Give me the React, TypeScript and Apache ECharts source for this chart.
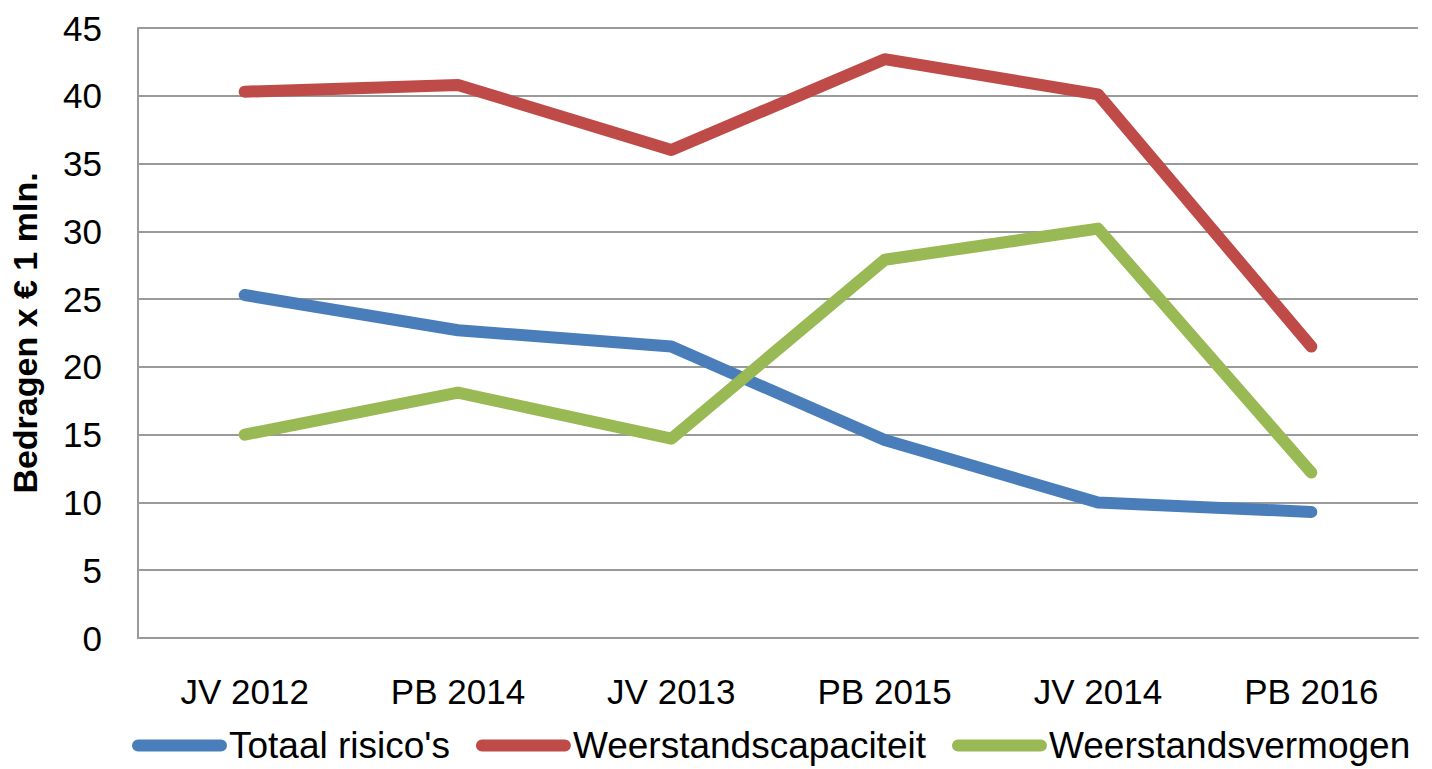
import React, { useEffect, useRef } from "react";
import * as echarts from "echarts";

const categories = ["JV 2012", "PB 2014", "JV 2013", "PB 2015", "JV 2014", "PB 2016"];
const totaalRisicos = [25.3, 22.7, 21.5, 14.6, 10.0, 9.3];
const weerstandscapaciteit = [40.3, 40.8, 36.0, 42.7, 40.1, 21.5];
const weerstandsvermogen = [15.0, 18.1, 14.7, 27.9, 30.2, 12.2];
const seriesNames = ["Totaal risico's", "Weerstandscapaciteit", "Weerstandsvermogen"];
const colors = ["#4a7ebb", "#be4b48", "#98b954"];

const FONT = "'Liberation Sans', Arial, sans-serif";
const capsule = "path://M6,0 L89,0 A6,6 0 0 1 89,12 L6,12 A6,6 0 0 1 6,0 Z";

export default function App() {
  const ref = useRef<HTMLDivElement>(null);
  useEffect(() => {
    if (!ref.current) return;
    const chart = echarts.init(ref.current, null, { renderer: "svg" });
    const data = [totaalRisicos, weerstandscapaciteit, weerstandsvermogen];
    chart.setOption({
      animation: false,
      backgroundColor: "#ffffff",
      grid: { left: 138, right: 14, top: 28, bottom: 131 },
      legend: {
        left: 132,
        top: 727,
        width: 1298,
        padding: 0,
        itemWidth: 95,
        itemHeight: 13,
        itemGap: 26,
        icon: capsule,
        textStyle: { fontFamily: FONT, fontSize: 37, color: "#000", padding: [0, 0, 0, -3] },
        data: seriesNames,
      },
      xAxis: {
        type: "category",
        data: categories,
        boundaryGap: true,
        axisLine: { show: true, lineStyle: { color: "#9a9a9a", width: 2 } },
        axisTick: { show: false },
        axisLabel: { fontFamily: FONT, fontSize: 35, color: "#000", margin: 36 },
      },
      yAxis: {
        type: "value",
        min: 0,
        max: 45,
        interval: 5,
        name: "Bedragen x € 1 mln.",
        nameLocation: "middle",
        nameGap: 96,
        nameTextStyle: { fontFamily: FONT, fontSize: 34, fontWeight: "bold", color: "#000" },
        axisLine: { show: true, lineStyle: { color: "#9a9a9a", width: 2 } },
        axisTick: { show: false },
        splitLine: { show: true, lineStyle: { color: "#9a9a9a", width: 2 } },
        axisLabel: { fontFamily: FONT, fontSize: 35, color: "#000", margin: 36 },
      },
      series: seriesNames.map((name, i) => ({
        name,
        type: "line",
        data: data[i],
        symbol: "none",
        color: colors[i],
        lineStyle: { width: 12, color: colors[i], cap: "round", join: "round" },
      })),
    });
    return () => chart.dispose();
  }, []);
  return <div ref={ref} style={{ width: 1432, height: 769, position: "absolute", left: 0, top: 0 }} />;
}
